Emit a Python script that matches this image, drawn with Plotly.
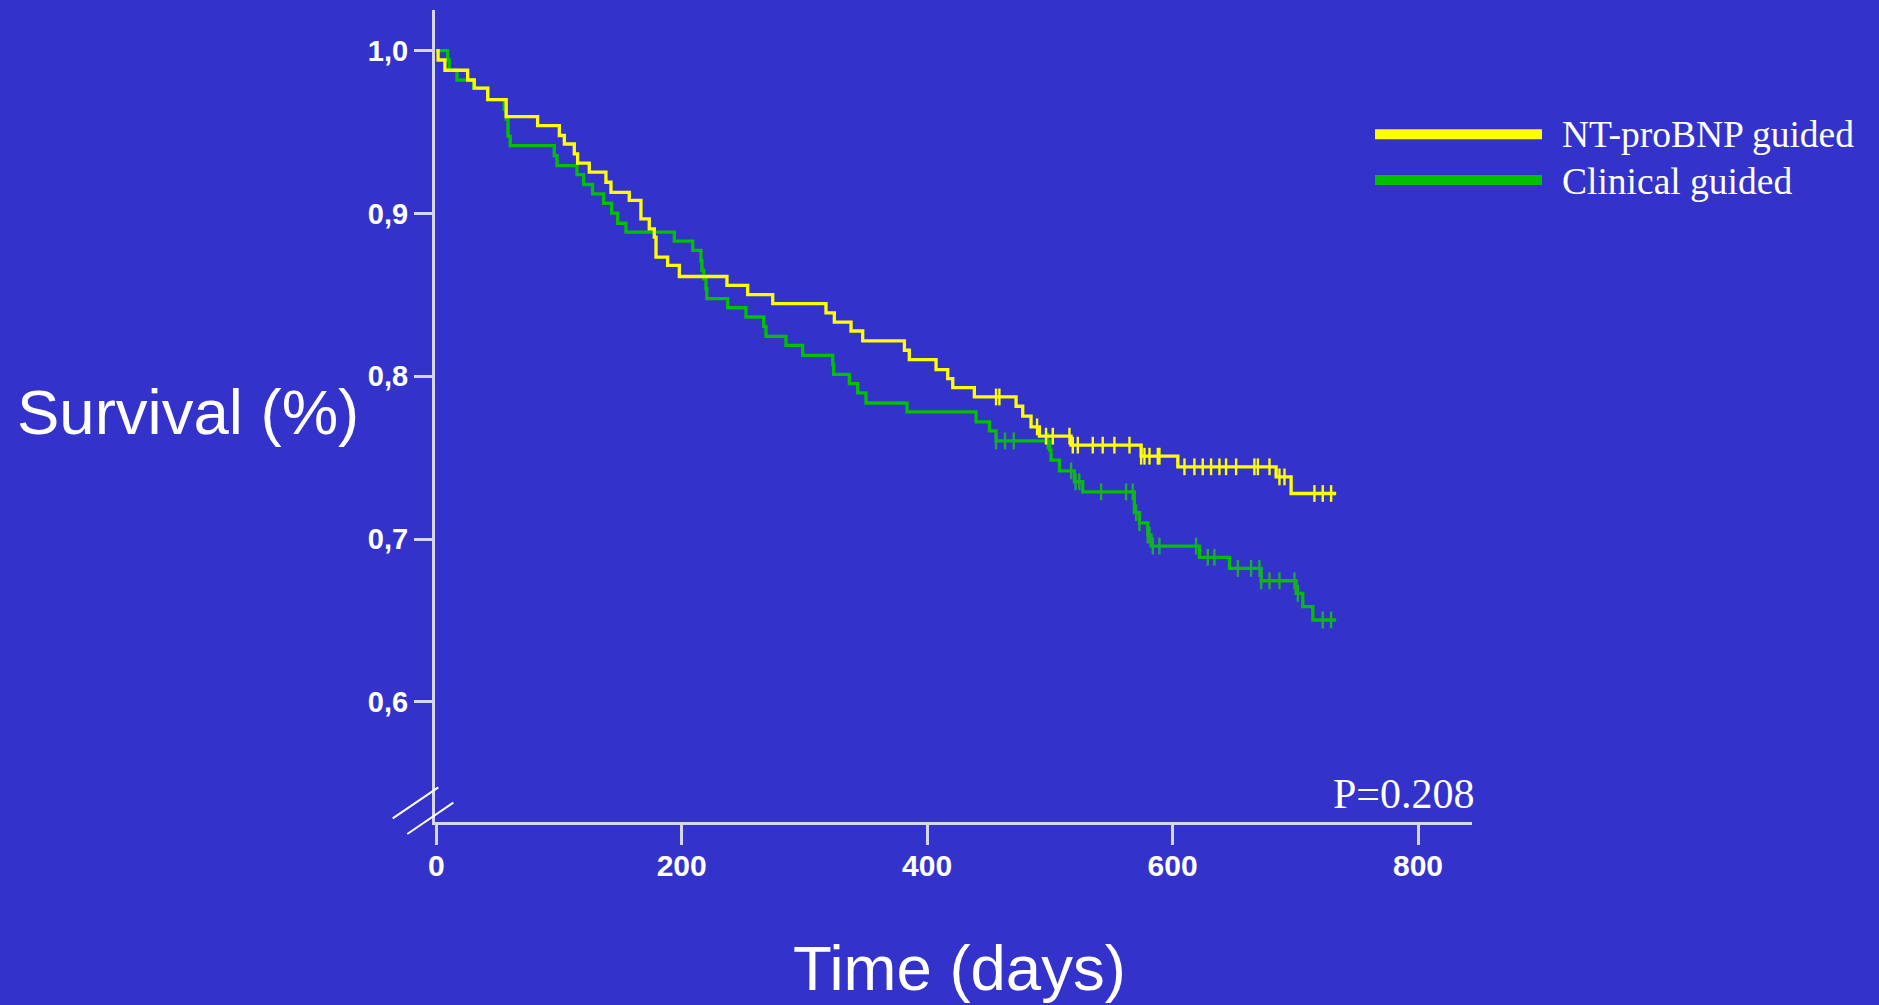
import plotly.graph_objects as go

# ---------------- data ----------------
# Kaplan-Meier step points (time in days, cumulative survival)
nt_times = [0, 1.5, 7.1, 25.6, 31, 42, 57, 82.6, 100.3, 104.4, 112.5, 115.2, 124.7, 138.3, 142.4,
            157.3, 166.8, 173.6, 177.7, 179.1, 188.6, 198.1, 236.9, 253.8, 274.2, 317.6, 324.4,
            338.0, 347.5, 381.5, 385.5, 407.3, 416.8, 420.9, 438.5, 472.5, 477.9, 484.7, 491.5,
            517.3, 574.4, 604.3, 684.4, 696.6, 733.3]
nt_surv = [1.0, 0.9943, 0.988, 0.982, 0.977, 0.970, 0.9595, 0.954, 0.9479, 0.9427, 0.9366, 0.9309,
           0.9254, 0.9192, 0.913, 0.908, 0.8967, 0.8906, 0.8855, 0.8732, 0.8681, 0.8613, 0.8558,
           0.8501, 0.8446, 0.8389, 0.8333, 0.8278, 0.8217, 0.816, 0.8102, 0.8041, 0.7986, 0.7930,
           0.7873, 0.7816, 0.7755, 0.7689, 0.7632, 0.7577, 0.7509, 0.7444, 0.7382, 0.728, 0.728]
nt_censored = [456.2, 458.9, 489.6, 496.9, 502.4, 516.0, 518.7, 522.8, 535.0, 543.1, 552.6, 564.9,
               574.4, 577.1, 581.2, 588.0, 589.3, 609.7, 617.8, 624.6, 631.4, 638.2, 643.6, 651.8,
               666.7, 669.5, 679.0, 687.1, 691.2, 715.6, 722.4, 729.2]

cl_times = [0, 9.3, 10.6, 16.9, 30.5, 41.9, 55.4, 57, 58.5, 60.3, 96.2, 98.4, 114.7, 120.1, 127.4,
            136.4, 142.9, 147.8, 154.6, 194.0, 209.0, 215.7, 216.5, 218, 219.8, 220.5, 237.5, 252.4,
            266.8, 268.7, 285.0, 298.6, 323.1, 323.8, 336.6, 343.4, 350.2, 383.6, 439.9, 450.8,
            456.2, 499.7, 501.0, 507.8, 520.0, 526.8, 568.9, 573.0, 579.8, 582.5, 621.9, 646.4,
            672.2, 700.7, 706.1, 714.3, 733.3]
cl_surv = [1.0, 0.9943, 0.988, 0.982, 0.977, 0.970, 0.964, 0.958, 0.9475, 0.9417, 0.9356, 0.9294,
           0.9239, 0.9178, 0.912, 0.9063, 0.9002, 0.894, 0.8885, 0.883, 0.8773, 0.871, 0.865, 0.8599,
           0.8538, 0.8477, 0.8421, 0.8364, 0.8307, 0.8245, 0.819, 0.8129, 0.8071, 0.8012, 0.7955,
           0.7898, 0.7836, 0.7781, 0.772, 0.7665, 0.7603, 0.7546, 0.7485, 0.7419, 0.7352, 0.729,
           0.7162, 0.71, 0.7025, 0.6957, 0.6888, 0.682, 0.6744, 0.6667, 0.6585, 0.6503, 0.6503]
cl_censored = [456.2, 463.5, 470.6, 498.3, 517.3, 521.0, 524.0, 541.8, 562.1, 567.6, 570.3, 573.0,
               579.8, 581.2, 583.9, 589.3, 619.2, 628.7, 634.1, 653.2, 664.0, 670.8, 672.2, 679.0,
               687.1, 699.3, 702.1, 722.4, 729.2]

series_names = ["NT-proBNP guided", "Clinical guided"]
x_tickvals = [0, 200, 400, 600, 800]
x_ticktext = ["0", "200", "400", "600", "800"]
y_tickvals = [0.6, 0.7, 0.8, 0.9, 1.0]
y_ticktext = ["0,6", "0,7", "0,8", "0,9", "1,0"]
p_value_text = "P=0.208"

# ---------------- style ----------------
BG = "#3333CC"
AXIS = "#D6D6F4"
YELLOW = "#FFFF00"
GREEN = "#00C000"
GREEN_CENS = "#1EA83C"
SANS = "Liberation Sans, Arial, sans-serif"
SERIF = "Liberation Serif, Times New Roman, serif"

W_FIG, H_FIG = 1879, 1005
L, R, T, B = 435, 1472, 10, 822   # plot area pixel box
PW, PH = R - L, B - T


def px(X):
    return (X - L) / PW


def py(Y):
    return (B - Y) / PH


def surv_at(t, times, survs):
    val = survs[0]
    for ti, si in zip(times, survs):
        if ti <= t:
            val = si
        else:
            break
    return val


fig = go.Figure()

groups = [
    (cl_times, cl_surv, cl_censored, GREEN, GREEN_CENS, series_names[1]),
    (nt_times, nt_surv, nt_censored, YELLOW, YELLOW, series_names[0]),
]
for times, survs, cens, col, ccol, name in groups:
    fig.add_trace(go.Scatter(
        x=times, y=survs, mode="lines", line=dict(color=col, width=3.3, shape="hv"),
        name=name, showlegend=False, hoverinfo="skip"))
    fig.add_trace(go.Scatter(
        x=cens, y=[surv_at(c, times, survs) for c in cens], mode="markers",
        marker=dict(symbol="line-ns", size=12, color=ccol, line=dict(color=ccol, width=2.4)),
        showlegend=False, hoverinfo="skip"))

# x range so that 1 day = ~1.227 px, y range so that 0.1 = ~162.8 px
fig.update_xaxes(range=[-1, 844], tickvals=x_tickvals, ticktext=x_ticktext,
                 showline=True, linecolor=AXIS, linewidth=3, showgrid=False, zeroline=False,
                 ticks="outside", ticklen=20, tickwidth=3, tickcolor=AXIS,
                 ticklabelstandoff=-5,
                 tickfont=dict(family=SANS, size=30, color="white", weight="bold"))
fig.update_yaxes(range=[0.5262, 1.025], tickvals=y_tickvals, ticktext=y_ticktext,
                 showline=True, linecolor=AXIS, linewidth=3, showgrid=False, zeroline=False,
                 ticks="outside", ticklen=18, tickwidth=3, tickcolor=AXIS,
                 tickfont=dict(family=SANS, size=29, color="white", weight="bold"))

shapes = []
# axis break marks
for (x0, y0, x1, y1) in [(392.7, 818.3, 438.3, 787.3), (407.3, 834.0, 453.3, 802.7)]:
    shapes.append(dict(type="line", xref="paper", yref="paper",
                       x0=px(x0), y0=py(y0), x1=px(x1), y1=py(y1),
                       line=dict(color="white", width=2)))
# legend swatches
for Yc, col in [(134.3, YELLOW), (180.0, GREEN)]:
    shapes.append(dict(type="line", xref="paper", yref="paper",
                       x0=px(1375), y0=py(Yc), x1=px(1542), y1=py(Yc),
                       line=dict(color=col, width=10)))

annotations = [
    dict(text=series_names[0], x=px(1560), y=py(134), xref="paper", yref="paper",
         xanchor="left", yanchor="middle", showarrow=False,
         font=dict(family=SERIF, size=37.5, color="white")),
    dict(text=series_names[1], x=px(1560), y=py(181), xref="paper", yref="paper",
         xanchor="left", yanchor="middle", showarrow=False,
         font=dict(family=SERIF, size=37.5, color="white")),
    dict(text=p_value_text, x=px(1477), y=py(794), xref="paper", yref="paper",
         xanchor="right", yanchor="middle", showarrow=False,
         font=dict(family=SERIF, size=42, color="white")),
    dict(text="Survival (%)", x=px(188), y=py(412), xref="paper", yref="paper",
         xanchor="center", yanchor="middle", showarrow=False,
         font=dict(family=SANS, size=63.5, color="white")),
    dict(text="Time (days)", x=px(959), y=py(968), xref="paper", yref="paper",
         xanchor="center", yanchor="middle", showarrow=False,
         font=dict(family=SANS, size=63.5, color="white")),
]

fig.update_layout(
    width=W_FIG, height=H_FIG, autosize=False,
    paper_bgcolor=BG, plot_bgcolor=BG,
    margin=dict(l=L, r=W_FIG - R, t=T, b=H_FIG - B, pad=0),
    showlegend=False, shapes=shapes, annotations=annotations,
)

fig.write_html(
    "out.html", config={"displayModeBar": False},
    post_script="document.body.style.margin='0';document.body.style.background='" + BG + "';",
)
